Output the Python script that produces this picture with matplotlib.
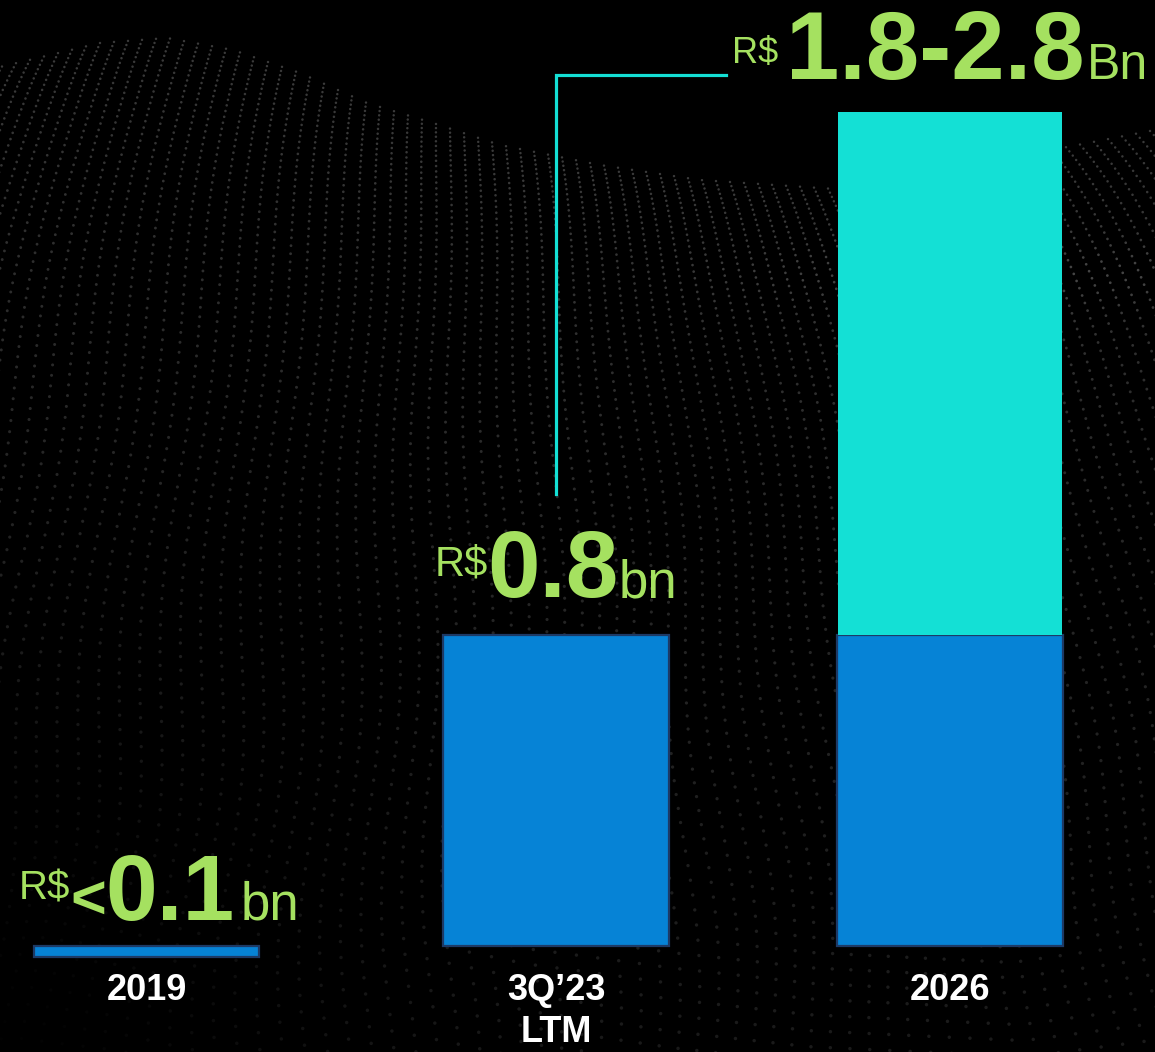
import numpy as np
import matplotlib
matplotlib.use("Agg")
from matplotlib import pyplot as plt

# --- data ---
categories = ["2019", "3Q’23\nLTM", "2026"]
base_vals = [0.028, 0.8, 0.8]      # R$ bn, blue part
upper_vals = [0.0, 0.0, 1.345]     # R$ bn, cyan part (2026 target range)
value_labels = [
    ["R$", "<", "0.1", "bn"],
    ["R$", "0.8", "bn"],
    ["R$", "1.8-2.8", "Bn"],
]

# --- style ---
W, H = 1155, 1052
GREEN = "#A5E160"
BLUE = "#0683D6"
EDGE = "#1D3A66"
CYAN = "#14E0D5"
FONT = "Liberation Sans"

xpos = np.array([0, 1.02, 2])
bar_w = 0.5625
bar_bottom = [-0.028, 0, 0]

fig = plt.figure(figsize=(W / 100, H / 100), dpi=100, facecolor="black")

# background: dotted wave surface
bg = fig.add_axes([0, 0, 1, 1])
bg.set_xlim(0, W)
bg.set_ylim(H, 0)
bg.axis("off")
bg.set_facecolor("black")
edge_x = [-300, 0, 100, 167, 233, 300, 367, 433, 500, 600, 700, 850, 1000, 1155]
edge_y = [120, 67, 43, 38, 50, 73, 103, 123, 145, 165, 180, 190, 160, 130]
n_dots = 95
t = np.linspace(0, 1, n_dots)
xs, ys, gs, ss = [], [], [], []
for x_top in np.arange(-320, W + 20, 14):
    y_top = np.interp(x_top, edge_x, edge_y)
    yy = y_top + 1000 * (0.38 * t + 0.62 * t ** 2)
    xx = x_top + 0.5 * (x_top - 450) * t + 10 * np.sin(yy / 70 + x_top / 90) * t
    g = 0.23 - 0.14 * t
    # ripple crest on the right side
    g = g + 0.07 * np.exp(-((yy - 275) / 35) ** 2) * np.clip((xx - 620) / 300, 0, 1)
    # dark corner bottom left
    g = g * (1 - 0.9 * np.exp(-(xx / 300) ** 2 - ((yy - 1040) / 300) ** 2))
    xs.append(xx)
    ys.append(yy)
    gs.append(g)
    ss.append(3 + 3.5 * t)
xs = np.concatenate(xs)
ys = np.concatenate(ys)
gs = np.clip(np.concatenate(gs), 0, 1)
ss = np.concatenate(ss)
bg.scatter(xs, ys, s=ss, c=np.stack([gs, gs, gs], axis=1), linewidths=0, zorder=0)

# main axes mapped over the whole figure
ax = fig.add_axes([0, 0, 1, 1])
ax.patch.set_alpha(0)
ax.set_xlim(-146.5 / 401.75, (W - 146.5) / 401.75)
ax.set_ylim(-106 / 388.75, (H - 106) / 388.75)
ax.axis("off")

ax.bar(xpos, base_vals, width=bar_w, bottom=bar_bottom, color=BLUE,
       edgecolor=EDGE, linewidth=1.6, zorder=2)
tops = np.array(bar_bottom) + np.array(base_vals)
ax.bar(xpos, upper_vals, width=bar_w - 0.006, bottom=tops, color=CYAN,
       linewidth=0, zorder=3)

# category labels
for x, c in zip(xpos, categories):
    ax.text(x, -0.07, c, ha="center", va="top", color="white", fontsize=26,
            fontweight="bold", family=FONT, linespacing=1.25)

# leader line from 3Q'23 up to the 2026 label
ax.plot([xpos[1], xpos[1], 1.4425], [1.163, 2.240, 2.240], color=CYAN,
        lw=2.3, solid_joinstyle="miter", zorder=3)

# value labels, made of pieces with different sizes
fig.canvas.draw()
r = fig.canvas.get_renderer()


def put_run(x_px, base_px, texts, sizes, weights, rises, gaps):
    for s, size, wt, rise, gap in zip(texts, sizes, weights, rises, gaps):
        t = fig.text(x_px / W, (base_px + rise) / H, s, fontsize=size,
                     fontweight=wt, color=GREEN, ha="left", va="baseline",
                     family=FONT)
        bb = t.get_window_extent(r)
        x_px = bb.x1 + gap


label_tops = tops + np.array(upper_vals)
offsets = [(-128, 26), (-122, 38), (-218, 33)]
sizes = [[29, 44, 67, 38], [30, 68, 38], [26, 69, 36]]
weights = [["normal", "bold", "bold", "normal"], ["normal", "bold", "normal"],
           ["normal", "bold", "normal"]]
rises = [[20, 1, 0, 0], [22, 0, 0], [16, 0, 0]]
gaps = [[0, 0, 6, 0], [0, 0, 0], [8, 2, 0]]
for i in range(3):
    px, py = ax.transData.transform((xpos[i], label_tops[i]))
    put_run(px + offsets[i][0], py + offsets[i][1], value_labels[i],
            sizes[i], weights[i], rises[i], gaps[i])

fig.savefig("out.png", dpi=100, facecolor="black")
